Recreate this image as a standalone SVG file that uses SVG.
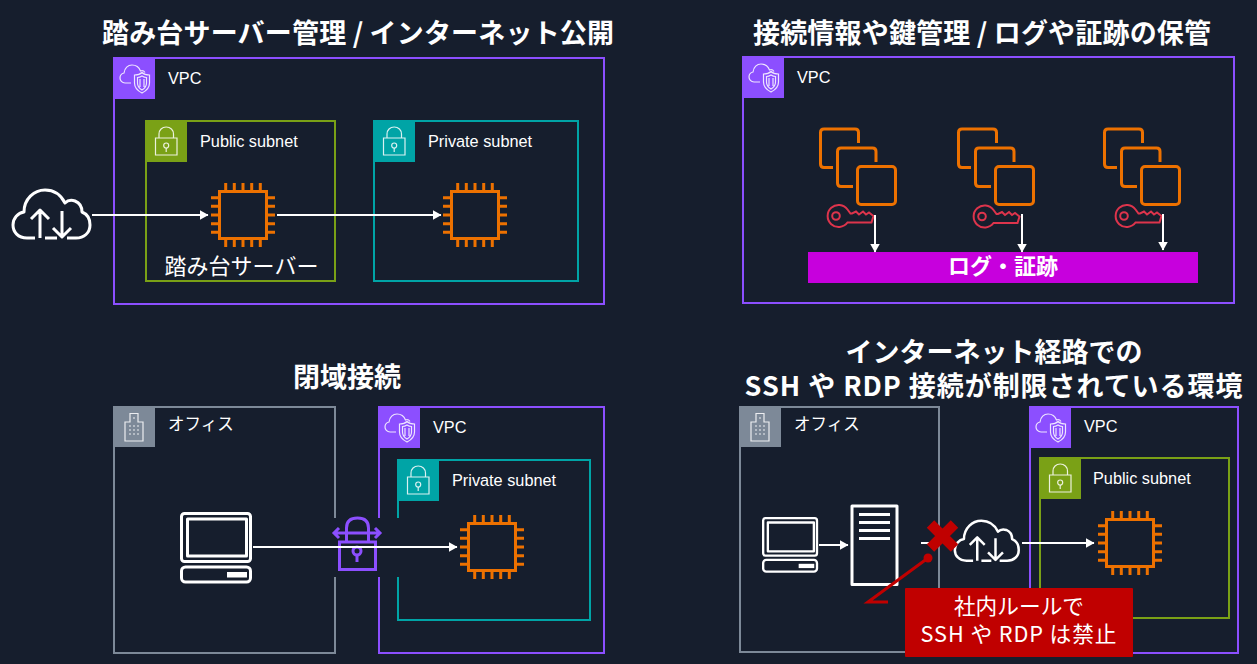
<svg xmlns="http://www.w3.org/2000/svg" width="1257" height="664" viewBox="0 0 1257 664">
<style>
text{font-family:"Liberation Sans","Noto Sans CJK JP",sans-serif;fill:#fff}
.jp{font-family:"Noto Sans CJK JP","Liberation Sans",sans-serif}
.title{font-family:"Noto Sans CJK JP","Liberation Sans",sans-serif;font-weight:700;font-size:27px;text-anchor:middle}
.lbl{font-size:16.300px}
.box{fill:none;stroke-width:2}
.vpc{stroke:#8c4fff}.pub{stroke:#7aa116}.pri{stroke:#00a4a6}.off{stroke:#7d8998}
.ic{fill:none;stroke:#fff;stroke-width:1.200;opacity:.85}
.wh{fill:none;stroke:#fff;stroke-width:3;stroke-linejoin:round}
.or{fill:none;stroke:#ed7100;stroke-width:3}
.cn{stroke:#fff;stroke-width:2;fill:none;marker-end:url(#ah)}
</style>
<defs>
<marker id="ah" markerUnits="userSpaceOnUse" markerWidth="9" markerHeight="10" refX="8.500" refY="5" orient="auto"><path d="M0 0L9 5L0 10Z" fill="#fff"/></marker>
<g id="b-vpc"><rect width="41" height="41" fill="#8c4fff"/><path class="ic" d="M17 25H11C8 25 6 22.500 6 20C6 17 8 15.500 10 15C10.500 10 14 7 18 7C22 7 25 9 26.500 13C28 12.500 30 13 31 14.500"/><path class="ic" d="M28 14.500C30 16.500 33 17 35.500 17V25C35.500 30 32 33 28 35C24 33 20.500 30 20.500 25V17C23 17 26 16.500 28 14.500ZM28 18C29.500 19 31 19.500 32.500 19.500V25C32.500 28 30.500 30.500 28 32C25.500 30.500 23.500 28 23.500 25V19.500C25 19.500 26.500 19 28 18ZM26 21V29M30 21V29"/></g>
<g id="lock"><path class="ic" d="M9.500 17H31V34H9.500ZM13 17V13C13 9 16 6 20.200 6C24.400 6 27.500 9 27.500 13V17M20.200 27V31"/><circle class="ic" cx="20.200" cy="24.500" r="2.500"/></g>
<g id="b-pub"><rect width="41" height="41" fill="#7aa116"/><use href="#lock"/></g>
<g id="b-pri"><rect width="41" height="41" fill="#00a4a6"/><use href="#lock"/></g>
<g id="b-off"><rect width="41" height="40" fill="#7d8998"/><path class="ic" d="M11 34V15H16V6.500H24V15H29V34ZM15 19H17M19 19H21M23 19H25M15 23H17M19 23H21M23 23H25M15 27H17M19 27H21M23 27H25M19 11H21"/></g>
<g id="chip"><rect class="or" x="-23.500" y="-23.500" width="47" height="47"/><path d="M-32 -17.300H-24M-32 -8.700H-24M-32 0H-24M-32 8.700H-24M-32 17.300H-24M24 -17.300H32M24 -8.700H32M24 0H32M24 8.700H32M24 17.300H32M-17.300 -32V-24M-8.700 -32V-24M0 -32V-24M8.700 -32V-24M17.300 -32V-24M-17.300 24V32M-8.700 24V32M0 24V32M8.700 24V32M17.300 24V32" fill="none" stroke="#ed7100" stroke-width="3"/></g>
<g id="cloud"><path class="wh" d="M23 49H15C6 49 1 43 1 36C1 29 6 24 12 23C12 10 22 1 33 1C42 1 49 6 53 14C56 11 60 11 63 12C68 14 70 19 70 23C75 25 78 30 78 36C78 44 72 49 64 49H55M33 49H45M28 49V21M19 30L28 21L37 30M50 22V48M41 39L50 48L59 39"/></g>
<g id="stack"><path d="M833 167.500H824Q820.500 167.500 820.500 164V132.500Q820.500 129 824 129H855Q858.500 129 858.500 132.500V143" class="or"/><path d="M853 186.500H841Q837.500 186.500 837.500 183V151.500Q837.500 148 841 148H872.500Q876 148 876 151.500V162" class="or"/><rect class="or" x="857.500" y="166.500" width="38" height="38" rx="3.500"/></g>
<g id="key" fill="none" stroke="#dd344c" stroke-width="2"><path d="M8.500 -6.500A11 11 0 1 0 8.500 6.500H32.500L34.500 0L30 -3.500L27 -1.500L24 -4.500L20 -1.500L17 -4.500L13 -2.500H11.500Z"/><circle cx="-3" cy="0" r="3.800"/></g>
<g id="laptop"><rect class="wh" x="1.500" y="1.500" width="69" height="48" rx="3"/><rect class="wh" x="7.500" y="7" width="59" height="37"/><rect class="wh" x="1.500" y="55" width="69" height="15" rx="4"/><rect x="47" y="60" width="20" height="5.500" fill="#fff"/></g>
</defs>
<rect width="1257" height="664" fill="#161e2d"/>

<g id="titles">
<text class="title" x="358" y="43" textLength="512">踏み台サーバー管理 / インターネット公開</text>
<text class="title" x="982" y="43" textLength="458">接続情報や鍵管理 / ログや証跡の保管</text>
<text class="title" x="347" y="387">閉域接続</text>
<text class="title"><tspan x="994" y="362">インターネット経路での</tspan><tspan x="994" y="396" letter-spacing=".95">SSH や RDP 接続が制限されている環境</tspan></text>
</g>

<g id="vpc-tl"><rect class="box vpc" x="114" y="58" width="490" height="246"/><use href="#b-vpc" x="114" y="58"/><text class="lbl" x="168" y="84">VPC</text></g>
<g id="pub-tl"><rect class="box pub" x="146" y="121" width="189" height="160"/><use href="#b-pub" x="146" y="121"/><text class="lbl" x="200" y="147">Public subnet</text></g>
<g id="pri-tl"><rect class="box pri" x="374" y="121" width="204" height="160"/><use href="#b-pri" x="374" y="121"/><text class="lbl" x="428" y="147">Private subnet</text></g>
<g id="inet-tl"><use href="#cloud" x="12" y="189"/></g>
<g id="bastion"><use href="#chip" x="243" y="215"/><text class="jp" x="241.500" y="274" font-size="22" text-anchor="middle">踏み台サーバー</text></g>
<g id="chip-tl"><use href="#chip" x="475" y="215"/></g>

<g id="vpc-tr"><rect class="box vpc" x="743" y="57" width="491" height="246"/><use href="#b-vpc" x="743" y="57"/><text class="lbl" x="797" y="83">VPC</text></g>
<g id="stack1"><use href="#stack"/><use href="#key" x="839" y="216"/></g>
<g id="stack2"><use href="#stack" x="138"/><use href="#key" x="985" y="216.500"/></g>
<g id="stack3"><use href="#stack" x="284"/><use href="#key" x="1127" y="216"/></g>
<g id="log"><rect x="808" y="252" width="390" height="31" fill="#c700dd"/><text class="jp" x="1003" y="274" font-size="22" font-weight="700" text-anchor="middle">ログ・証跡</text></g>

<g id="office-bl"><path class="box off" d="M335 518V407H114V653H335V577"/><use href="#b-off" x="114" y="407"/><text class="jp" x="168" y="430" font-size="16.500">オフィス</text></g>
<g id="vpc-bl"><path class="box vpc" d="M379 518V407H604V653H379V577"/><use href="#b-vpc" x="379" y="407"/><text class="lbl" x="433" y="433">VPC</text></g>
<g id="pri-bl"><path class="box pri" d="M398 518V460H590V620H398V577"/><use href="#b-pri" x="398" y="460"/><text class="lbl" x="452" y="486">Private subnet</text></g>
<g id="laptop-bl"><use href="#laptop" x="180" y="512"/></g>
<g id="vpn" fill="none" stroke="#8c4fff" stroke-width="3"><path d="M346.500 541V528C346.500 521 351 518 357.500 518C364 518 368.500 521 368.500 528V541M334 533H380M339 528L334 533L339 538M375 528L380 533L375 538"/><rect x="339.500" y="542" width="36" height="27.500"/><circle cx="357" cy="551" r="4"/><path d="M357 555V562"/></g>
<g id="chip-bl"><use href="#chip" x="492" y="547"/></g>

<g id="office-br"><rect class="box off" x="740" y="407" width="199" height="245"/><use href="#b-off" x="740" y="407"/><text class="jp" x="794" y="430" font-size="16.500">オフィス</text></g>
<g id="vpc-br"><rect class="box vpc" x="1030" y="407" width="208" height="246"/><use href="#b-vpc" x="1030" y="407"/><text class="lbl" x="1084" y="432">VPC</text></g>
<g id="pub-br"><rect class="box pub" x="1040" y="458" width="189" height="160"/><use href="#b-pub" x="1040" y="458"/><text class="lbl" x="1093" y="484">Public subnet</text></g>
<g id="laptop-br"><use href="#laptop" transform="translate(762 517) scale(.78)"/></g>
<g id="server"><rect class="wh" x="852" y="506" width="45" height="78.500"/><path d="M859 514.500H890M859 522.500H890M859 530.500H890M859 538.500H890" stroke="#fff" stroke-width="3" fill="none"/></g>
<g id="inet-br"><use href="#cloud" transform="translate(954 520) scale(.83)"/></g>
<g id="chip-br"><use href="#chip" x="1130" y="543"/></g>

<g id="connectors">
<path class="cn" d="M92 215H208"/>
<path class="cn" d="M277 215H441"/>
<path class="cn" d="M875 215V252"/>
<path class="cn" d="M1022 214V252"/>
<path class="cn" d="M1163 214V250"/>
<path class="cn" d="M253 547H457"/>
<path class="cn" d="M819 545H848"/>
<path d="M921 543H941" stroke="#fff" stroke-width="2"/>
<path class="cn" d="M1022 543H1094"/>
</g>

<g id="blocked"><path d="M930.500 524L954.500 548M954.500 524L930.500 548" stroke="#c00000" stroke-width="10.500" fill="none"/></g>
<g id="callout"><path d="M928 558L868 602H888" stroke="#c00000" stroke-width="3" fill="none"/><circle cx="928" cy="558" r="4.500" fill="#c00000"/><rect x="905" y="588" width="228" height="69" rx="1" fill="#c00000"/><text class="jp" x="1019" font-size="21.700" text-anchor="middle"><tspan x="1019" y="614">社内ルールで</tspan><tspan x="1019" y="642" letter-spacing=".9">SSH や RDP は禁止</tspan></text></g>
</svg>
